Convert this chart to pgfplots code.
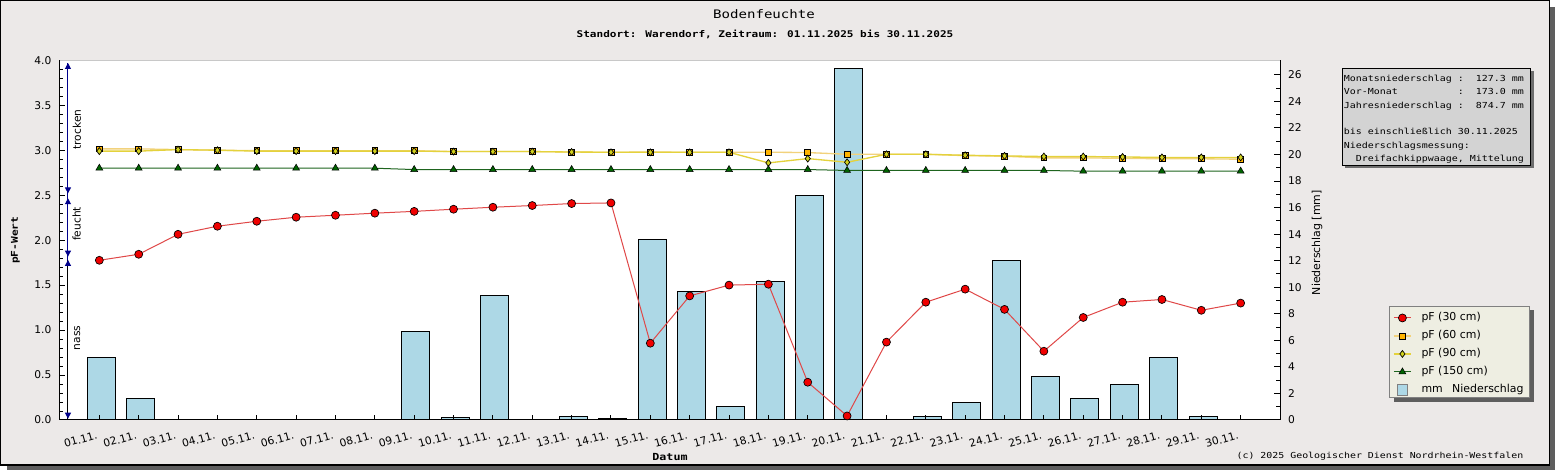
\documentclass[border=0pt]{standalone}
\usepackage{pgfplots}
\pgfplotsset{compat=1.18}
\usepackage{fontspec}
\setmainfont{DejaVu Sans}
\newfontfamily\mono[FakeStretch=1.2]{DejaVu Sans Mono}
\usetikzlibrary{arrows.meta}

\definecolor{bg}{HTML}{ECE9E8}
\definecolor{shadowc}{HTML}{5E5E5E}
\definecolor{boxshadow}{HTML}{6E6E6E}
\definecolor{gridc}{HTML}{C8C8C8}
\definecolor{barblue}{HTML}{ADD8E6}
\definecolor{infobg}{HTML}{D3D3D3}
\definecolor{legbg}{HTML}{EEEEE2}
\definecolor{c30}{HTML}{F00000}
\definecolor{l30}{HTML}{E04848}
\definecolor{c60}{HTML}{FFB400}
\definecolor{l60}{HTML}{F2D27C}
\definecolor{c90}{HTML}{D2D21E}
\definecolor{l90}{HTML}{E4D23C}
\definecolor{c150}{HTML}{006400}
\definecolor{l150}{HTML}{1E641E}
\definecolor{navyc}{HTML}{00008B}

\newcommand\px[2]{({((#1)-60)*0.75pt},{(420-(#2))*0.75pt})}

\pgfplotsset{
  base/.style={
    scale only axis, width=915pt, height=269.775pt,
    xmin=0, xmax=31, clip=true,
    tick label style={font=\fontsize{8}{9.6}\selectfont},
    /pgf/number format/assume math mode=true,
    tick style={black, line width=0.75pt},
  },
}

\begin{document}
\begin{tikzpicture}
% frame and background
\fill[shadowc] \px{7}{7} rectangle \px{1555}{470};
\filldraw[fill=bg, draw=black, line width=1.1pt] \px{0.75}{0.75} rectangle \px{1549.5}{465.2};
% info box
\fill[boxshadow] \px{1345}{71.5} rectangle \px{1533.5}{168.5};
\filldraw[fill=infobg, draw=black, line width=0.75pt] \px{1342}{68.5} rectangle \px{1530}{165.5};
% legend box
\fill[shadowc] \px{1393.5}{310} rectangle \px{1533.5}{402};
\filldraw[fill=legbg, draw=gray, line width=0.75pt] \px{1389.5}{306.5} rectangle \px{1529}{398};

% titles
\node[anchor=base, font=\mono\fontsize{8.8}{10}\selectfont, inner sep=0pt] at \px{764}{18.3} {Bodenfeuchte};
\node[anchor=base, font=\mono\bfseries\fontsize{6.9}{8}\selectfont, inner sep=0pt] at \px{765}{37.3} {Standort: Warendorf, Zeitraum: 01.11.2025 bis 30.11.2025};
\node[anchor=base east, font=\mono\fontsize{6.2}{7}\selectfont, inner sep=0pt] at \px{1523.5}{458.5} {(c) 2025 Geologischer Dienst Nordrhein-Westfalen};

% info box text
\begin{scope}[every node/.style={anchor=base west, font=\mono\fontsize{6.23}{7}\selectfont, inner sep=0pt}]
\node at \px{1343.5}{81.7} {Monatsniederschlag~:~~127.3~mm};
\node at \px{1343.5}{95.0} {Vor-Monat~~~~~~~~~~:~~173.0~mm};
\node at \px{1343.5}{108.3} {Jahresniederschlag~:~~874.7~mm};
\node at \px{1343.5}{134.9} {bis einschließlich 30.11.2025};
\node at \px{1343.5}{148.2} {Niederschlagsmessung:};
\node at \px{1343.5}{161.5} {~~Dreifachkippwaage, Mittelung};
\end{scope}

% axis 1: background + grid
\begin{axis}[base, ymin=0, ymax=4,
  ytick={0.5,1,...,4}, yticklabels={}, xtick=\empty,
  major tick length=0pt, ymajorgrids,
  major grid style={gridc, line width=0.75pt},
  axis lines=none,
  axis background/.style={fill=white}]
\addplot[draw=none] coordinates {(1,1)};
\end{axis}

% axis 2: precipitation bars, right axis
\begin{axis}[base, ymin=0, ymax=27.1,
  axis x line=none, axis y line*=right, axis line style={-, black, line width=0.75pt},
  ytick={0,2,...,26}, minor y tick num=1, ytick pos=right, tick align=inside,
  major tick length=4.5pt, minor tick length=3pt,
  yticklabel style={xshift=2.5pt},
  ylabel={Niederschlag [mm]},
  ylabel style={font=\fontsize{8.2}{9.6}\selectfont, at={(axis description cs:1.0303,0.493)}, anchor=center, rotate=0}]
\addplot[ybar, bar width=0.711, bar shift=1.3pt, fill=barblue, draw=black, line width=0.75pt]
  table[row sep=\\] {
  x y \\
  1 4.7 \\ 2 1.6 \\ 9 6.7 \\ 10 0.2 \\ 11 9.4 \\ 13 0.3 \\ 14 0.1 \\
  15 13.6 \\ 16 9.7 \\ 17 1.0 \\ 18 10.4 \\ 19 16.9 \\ 20 26.5 \\
  22 0.3 \\ 23 1.3 \\ 24 12.0 \\ 25 3.3 \\ 26 1.6 \\ 27 2.7 \\ 28 4.7 \\ 29 0.3 \\
  };
\end{axis}

% axis 3: pF lines, left axis and x axis
\begin{axis}[base, ymin=0, ymax=4,
  axis line style={black, line width=0.75pt},
  ytick={0,0.5,...,4}, minor y tick num=4, ytick pos=left,
  xtick={1,...,30},
  xticklabels={01.11.,02.11.,03.11.,04.11.,05.11.,06.11.,07.11.,08.11.,09.11.,10.11.,11.11.,12.11.,13.11.,14.11.,15.11.,16.11.,17.11.,18.11.,19.11.,20.11.,21.11.,22.11.,23.11.,24.11.,25.11.,26.11.,27.11.,28.11.,29.11.,30.11.},
  xtick pos=bottom, tick align=inside,
  major tick length=3.75pt, minor tick length=2.25pt,
  yticklabel style={/pgf/number format/.cd, fixed, fixed zerofill, precision=1, /tikz/.cd, xshift=-3pt},
  xticklabel style={rotate=16, anchor=north east, yshift=-3.5pt, xshift=-1.3pt},
  ylabel={\mono\bfseries pF-Wert},
  ylabel style={font=\fontsize{7}{8}\selectfont, at={(axis description cs:-0.0365,0.5)}, anchor=center},
  xlabel={\mono\bfseries Datum},
  xlabel style={font=\fontsize{7.3}{8}\selectfont, at={(axis description cs:0.5,-0.1023)}, anchor=center},
  legend style={draw=none, fill=none, at={(axis description cs:1.0893,0.3169)}, anchor=north west,
    inner xsep=3pt, inner ysep=2pt, row sep=0pt,
    font=\fontsize{8.2}{9.8}\selectfont,
    nodes={inner sep=0pt, text height=9pt, text depth=4.5pt}},
  legend cell align=left,
  legend image code/.code={%
    \draw[mark repeat=2, mark phase=2, #1] plot coordinates {(0pt,0pt) (6.4pt,0pt) (12.75pt,0pt)};
    \path (20.25pt,0pt);},
]
\addplot[l30, line width=0.75pt, mark=*, mark size=3pt, mark options={fill=c30, draw=black, line width=0.5pt}]
  table[row sep=\\] {
  x y \\
  1 1.776 \\ 2 1.843 \\ 3 2.065 \\ 4 2.155 \\ 5 2.21 \\ 6 2.255 \\ 7 2.277 \\ 8 2.30 \\ 9 2.32 \\ 10 2.344 \\
  11 2.366 \\ 12 2.385 \\ 13 2.407 \\ 14 2.414 \\ 15 0.854 \\ 16 1.38 \\ 17 1.50 \\ 18 1.51 \\ 19 0.42 \\ 20 0.045 \\
  21 0.866 \\ 22 1.31 \\ 23 1.455 \\ 24 1.23 \\ 25 0.765 \\ 26 1.14 \\ 27 1.31 \\ 28 1.34 \\ 29 1.22 \\ 30 1.30 \\
  };
\addlegendentry{pF (30 cm)}
\addplot[l60, line width=1pt, mark=square*, mark size=2.2pt, mark options={fill=c60, draw=black, line width=0.5pt}]
  table[row sep=\\] {
  x y \\
  1 3.015 \\ 2 3.015 \\ 3 3.007 \\ 4 3.0 \\ 5 2.995 \\ 6 2.995 \\ 7 2.995 \\ 8 2.995 \\ 9 2.995 \\ 10 2.985 \\
  11 2.985 \\ 12 2.985 \\ 13 2.98 \\ 14 2.977 \\ 15 2.98 \\ 16 2.977 \\ 17 2.977 \\ 18 2.978 \\ 19 2.974 \\ 20 2.955 \\
  21 2.955 \\ 22 2.955 \\ 23 2.94 \\ 24 2.933 \\ 25 2.915 \\ 26 2.915 \\ 27 2.91 \\ 28 2.905 \\ 29 2.905 \\ 30 2.90 \\
  };
\addlegendentry{pF (60 cm)}
\addplot[l90, line width=1pt, mark=diamond*, mark size=2.6pt, mark options={fill=c90, draw=black, line width=0.5pt}]
  table[row sep=\\] {
  x y \\
  1 2.99 \\ 2 2.99 \\ 3 3.007 \\ 4 3.0 \\ 5 2.99 \\ 6 2.99 \\ 7 2.99 \\ 8 2.99 \\ 9 2.99 \\ 10 2.985 \\
  11 2.985 \\ 12 2.985 \\ 13 2.98 \\ 14 2.977 \\ 15 2.977 \\ 16 2.977 \\ 17 2.977 \\ 18 2.859 \\ 19 2.907 \\ 20 2.866 \\
  21 2.955 \\ 22 2.955 \\ 23 2.944 \\ 24 2.937 \\ 25 2.93 \\ 26 2.93 \\ 27 2.925 \\ 28 2.92 \\ 29 2.92 \\ 30 2.92 \\
  };
\addlegendentry{pF (90 cm)}
\addplot[l150, line width=0.75pt, mark=triangle*, mark size=3pt, mark options={fill=c150, draw=black, line width=0.4pt}]
  table[row sep=\\] {
  x y \\
  1 2.80 \\ 2 2.80 \\ 3 2.80 \\ 4 2.80 \\ 5 2.80 \\ 6 2.80 \\ 7 2.80 \\ 8 2.80 \\ 9 2.785 \\ 10 2.785 \\
  11 2.785 \\ 12 2.785 \\ 13 2.785 \\ 14 2.785 \\ 15 2.785 \\ 16 2.785 \\ 17 2.785 \\ 18 2.785 \\ 19 2.785 \\ 20 2.775 \\
  21 2.775 \\ 22 2.775 \\ 23 2.775 \\ 24 2.775 \\ 25 2.775 \\ 26 2.767 \\ 27 2.767 \\ 28 2.767 \\ 29 2.767 \\ 30 2.767 \\
  };
\addlegendentry{pF (150 cm)}
\addlegendimage{legend image code/.code={\draw[fill=barblue, draw=gray, line width=0.75pt] (2.4pt,-4pt) rectangle (10.4pt,4pt); \path (20.25pt,0pt);}}
\addlegendentry{mm\hspace{7pt}Niederschlag}

% moisture classes
\draw[navyc, line width=0.75pt] (axis cs:0.203,1.78) -- (axis cs:0.203,3.97);
\draw[black, line width=0.75pt] (axis cs:0.203,0.015) -- (axis cs:0.203,1.78);
\draw[navyc, line width=0.75pt, {Triangle[width=4.5pt,length=4.5pt]}-{Triangle[width=4.5pt,length=4.5pt]}] (axis cs:0.203,2.52) -- (axis cs:0.203,3.97);
\draw[navyc, line width=0.75pt, {Triangle[width=4.5pt,length=4.5pt]}-{Triangle[width=4.5pt,length=4.5pt]}] (axis cs:0.203,1.817) -- (axis cs:0.203,2.466);
\draw[black, line width=0.75pt, {Triangle[width=4.5pt,length=4.5pt,color=navyc]}-{Triangle[width=4.5pt,length=4.5pt,color=navyc]}] (axis cs:0.203,0.015) -- (axis cs:0.203,1.78);
\node[rotate=90, font=\fontsize{8}{9}\selectfont, inner sep=0pt] at (axis cs:0.432,3.23) {trocken};
\node[rotate=90, font=\fontsize{8}{9}\selectfont, inner sep=0pt] at (axis cs:0.424,2.18) {feucht};
\node[rotate=90, font=\fontsize{8}{9}\selectfont, inner sep=0pt] at (axis cs:0.44,0.914) {nass};
\end{axis}

% top border of plot area in grid grey
\draw[gridc, line width=0.8pt] \px{60}{60.3} -- \px{1280}{60.3};

\pgfresetboundingbox
\path[use as bounding box] \px{0}{0} rectangle \px{1555}{470};
\end{tikzpicture}
\end{document}
